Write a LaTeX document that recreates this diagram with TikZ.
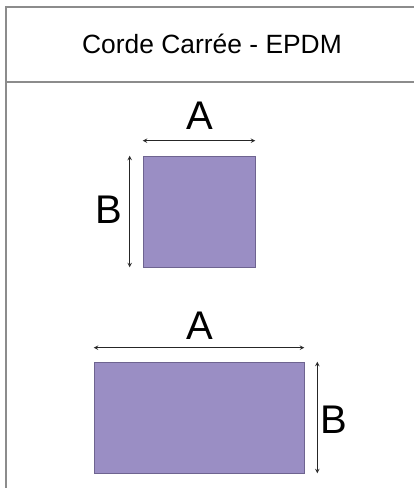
\documentclass[tikz,border=0pt]{standalone}
\usepackage{fontspec}
\setmainfont{Liberation Sans}
\usetikzlibrary{arrows, positioning}
\definecolor{epdm}{HTML}{9A8EC4}
\definecolor{epdmedge}{HTML}{6E6490}
\definecolor{rule}{HTML}{8C8C8C}
\tikzstyle{profile} = [rectangle, draw=epdmedge, fill=epdm, line width=0.6pt, inner sep=0pt]
\tikzstyle{dim} = [line width=1pt, <->, >=stealth, draw=black!85]
\tikzstyle{letter} = [anchor=base, inner sep=0pt, font=\fontsize{40}{48}\selectfont]
\tikzstyle{grid} = [draw=rule, line width=2pt]
\begin{document}
\begin{tikzpicture}[x=1pt, y=1pt, yscale=-1]
\useasboundingbox (0,0) rectangle (413,488);

% table
\draw[grid] (5.5,500) -- (5.5,6.5) -- (420,6.5);
\draw[grid] (5.5,81.5) -- (420,81.5);
\node at (212,53) (title) [anchor=base, font=\fontsize{26.4}{32}\selectfont] {Corde Carrée - EPDM};

% square section
\node at (199,211.5) (sq) [profile, minimum width=112pt, minimum height=111pt] {};
\coordinate (sqAl) at ([yshift=-15pt]sq.north west);
\coordinate (sqAr) at ([yshift=-15pt]sq.north east);
\coordinate (sqBt) at ([xshift=-13pt]sq.north west);
\coordinate (sqBb) at ([xshift=-13pt]sq.south west);
\draw[dim] (sqAl) -- (sqAr);
\draw[dim] (sqBt) -- (sqBb);
\node at (200,129) (sqA) [letter] {A};
\node at (108.5,223) (sqB) [letter] {B};

% flat section
\node at (199,417.5) (fl) [profile, minimum width=210pt, minimum height=111pt] {};
\coordinate (flAl) at ([yshift=-14pt]fl.north west);
\coordinate (flAr) at ([yshift=-14pt]fl.north east);
\coordinate (flBt) at ([xshift=13pt]fl.north east);
\coordinate (flBb) at ([xshift=13pt]fl.south east);
\draw[dim] (flAl) -- (flAr);
\draw[dim] (flBt) -- (flBb);
\node at (199.5,339) (flA) [letter] {A};
\node at (333.5,433) (flB) [letter] {B};

\end{tikzpicture}
\end{document}
